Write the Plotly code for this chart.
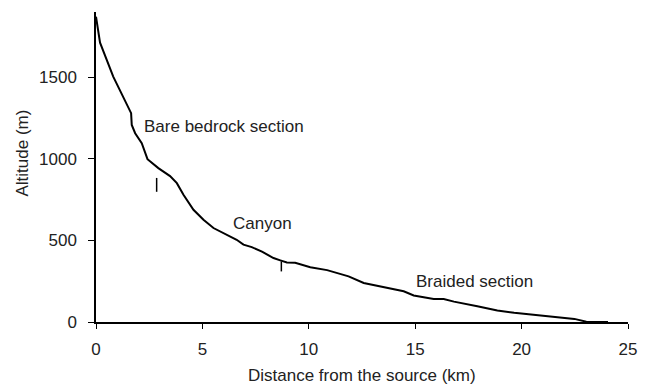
import plotly.graph_objects as go

# Longitudinal profile of the river (distance in km, altitude in m)
distance_km = [0.0, 0.19, 0.81, 1.44, 1.65, 1.68, 1.84, 2.15, 2.42, 2.93, 3.48, 3.80,
               4.11, 4.58, 5.05, 5.52, 6.14, 6.61, 6.93, 7.32, 7.80, 8.34, 8.66, 8.97,
               9.36, 10.07, 10.86, 11.87, 12.58, 13.52, 14.46, 14.93, 15.25, 15.87,
               16.34, 16.82, 17.92, 18.86, 19.65, 20.59, 21.69, 22.48, 23.04, 24.06]
altitude_m = [1871, 1712, 1504, 1341, 1280, 1208, 1157, 1096, 998, 943, 894, 851,
              780, 688, 627, 576, 535, 504, 474, 459, 431, 392, 378, 365,
              363, 336, 318, 280, 239, 215, 188, 163, 154, 141,
              141, 125, 96, 70, 56, 43, 29, 19, 2, 0]

# Section boundaries (km) with the vertical extent of each marker (m)
boundary_km = [2.85, 8.71]
boundary_low = [798, 310]
boundary_high = [883, 371]

# Section labels
section_names = ["Bare bedrock section", "Canyon", "Braided section"]
section_x = [2.17, 6.33, 14.95]
section_y = [1199, 605, 250]

FONT = "Liberation Sans, Arial, sans-serif"
TEXT_COLOR = "#222"

fig = go.Figure()
fig.add_trace(go.Scatter(x=distance_km, y=altitude_m, mode="lines",
                         line=dict(color="black", width=2), hoverinfo="skip"))

for bx, lo, hi in zip(boundary_km, boundary_low, boundary_high):
    fig.add_trace(go.Scatter(x=[bx, bx], y=[lo, hi], mode="lines",
                             line=dict(color="black", width=1.5), hoverinfo="skip"))

for name, sx, sy in zip(section_names, section_x, section_y):
    fig.add_annotation(x=sx, y=sy, text=name, showarrow=False, xanchor="left",
                       yanchor="middle",
                       font=dict(family=FONT, size=17, color=TEXT_COLOR))

# Axis titles placed in paper coordinates
fig.add_annotation(xref="paper", yref="paper", x=0.5, y=0, yshift=-53,
                   text="Distance from the source (km)", showarrow=False,
                   xanchor="center", yanchor="middle", borderpad=0,
                   font=dict(family=FONT, size=17, color=TEXT_COLOR))
fig.add_annotation(xref="paper", yref="paper", x=0, y=0.5435, xshift=-73,
                   text="Altitude (m)", showarrow=False, textangle=-90,
                   xanchor="center", yanchor="middle",
                   font=dict(family=FONT, size=17, color=TEXT_COLOR))

tick_font = dict(family=FONT, size=17, color=TEXT_COLOR)
fig.update_layout(
    width=650, height=385,
    margin=dict(l=96, r=22, t=12, b=63),
    paper_bgcolor="white", plot_bgcolor="white",
    showlegend=False,
    font=tick_font,
)
fig.update_xaxes(range=[0, 25], tickvals=[0, 5, 10, 15, 20, 25],
                 showgrid=False, zeroline=False, showline=True, linecolor="black",
                 linewidth=1.5, ticks="outside", ticklen=5, tickcolor="black",
                 tickfont=tick_font, ticklabelstandoff=6, automargin=False)
fig.update_yaxes(range=[0, 1900], tickvals=[0, 500, 1000, 1500],
                 showgrid=False, zeroline=False, showline=True, linecolor="black",
                 linewidth=1.5, ticks="outside", ticklen=6, tickcolor="black",
                 tickfont=tick_font, ticklabelstandoff=8, automargin=False)

fig.write_html("out.html")
